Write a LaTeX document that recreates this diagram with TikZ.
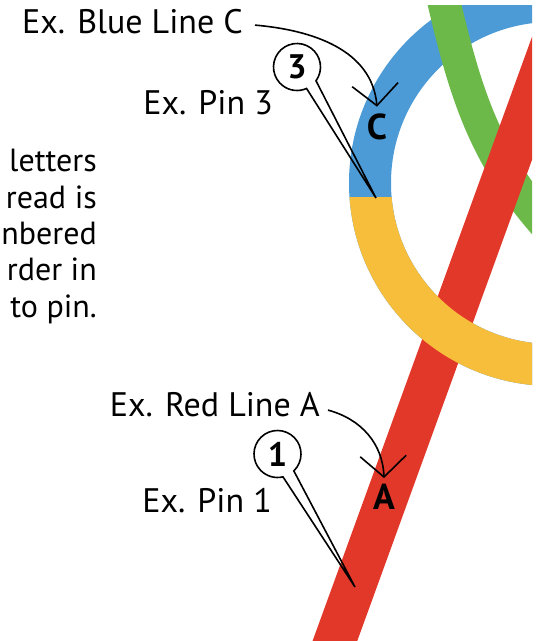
\documentclass[tikz,border=0pt]{standalone}
\usepackage{fontspec}
\setmainfont{PT Sans}
\usetikzlibrary{arrows.meta, positioning}
\definecolor{ringblue}{RGB}{76,155,215}
\definecolor{ringyellow}{RGB}{247,190,60}
\definecolor{ringred}{RGB}{226,56,42}
\definecolor{ringgreen}{RGB}{108,185,74}
\tikzset{
    band/.style={line width=42pt}, % the thick coloured strands
    callout/.style={line width=1.6pt, -{Straight Barb[length=21pt,width=46pt,line width=1.6pt]}},
    exlabel/.style={anchor=base east, inner sep=0pt, font=\fontsize{34}{40}\selectfont},
    letter/.style={inner sep=0pt, font=\fontsize{36}{40}\selectfont\bfseries},
    pin/.style={circle, minimum size=47pt, inner sep=0pt, outer sep=0pt, font=\fontsize{34}{38}\selectfont\bfseries},
    pinline/.style={line width=1.6pt},
}
\begin{document}
\begin{tikzpicture}[x=1pt,y=1pt]
\useasboundingbox (0,0) rectangle (539,641);

% strands
\begin{scope}
    \clip (0,0) rectangle (532,635);
    \draw[band, ringblue] (552,458) circle[radius=182pt];
    \draw[band, ringgreen, line width=33pt] (440,656) .. controls (465,546) and (485,481) .. (555,406);
    \draw[band, ringred] (328,-19) -- (575,661);
    \begin{scope}
        \clip (0,0) rectangle (532,443);
        \draw[band, ringyellow] (552,458) circle[radius=182pt];
    \end{scope}
\end{scope}

% labels
\node[exlabel] (blueLine) at (243,607) {Ex. Blue Line C};
\node[exlabel] (pinThree) at (273,526) {Ex. Pin 3};
\node[exlabel] (redLine) at (320,224) {Ex. Red Line A};
\node[exlabel] (pinOne) at (272,128) {Ex. Pin 1};
\foreach \t [count=\i] in {letters, read is, nbered, rder in, to pin.}
    \node[exlabel, font=\fontsize{32}{40}\selectfont] (note\i) at (97,505.3-36.3*\i) {\t};

% line letters
\node[letter] (letterC) at (377,514) {C};
\node[letter] (letterA) at (384,144) {A};
\coordinate[above=7pt of letterC] (arrowC);
\coordinate[above=6pt of letterA] (arrowA);
\draw[callout] ([xshift=12pt,yshift=-3pt]blueLine.east) to[out=-5,in=95] (arrowC);
\draw[callout] ([xshift=8pt,yshift=-5pt]redLine.east) to[out=-15,in=92] (arrowA);

% pins
\node[pin] (pin3) at (297,574) {3};
\coordinate (tip3) at (376,443);
\draw[pinline] (pin3.-36) arc[start angle=-36, end angle=294, radius=23.5pt] -- (tip3) -- cycle;

\node[pin] (pin1) at (277.5,187) {1};
\coordinate (tip1) at (355,54);
\draw[pinline] (pin1.-46) arc[start angle=-46, end angle=283.5, radius=23.5pt] -- (tip1) -- cycle;
\end{tikzpicture}
\end{document}
